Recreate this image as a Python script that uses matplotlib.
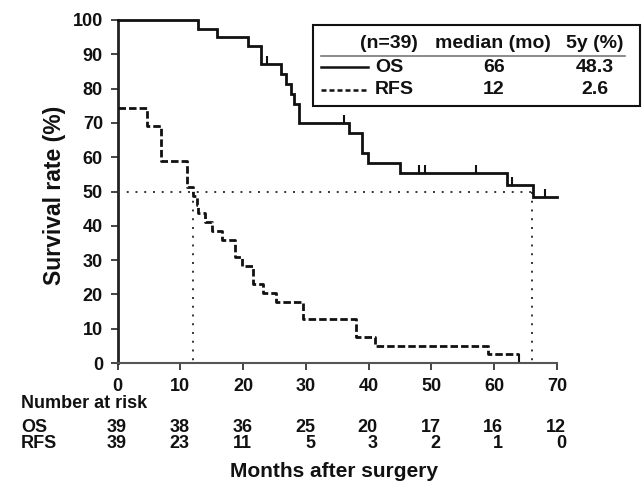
import numpy as np
import matplotlib
matplotlib.use('Agg')
import matplotlib.pyplot as plt
from matplotlib.patches import Rectangle
from matplotlib.lines import Line2D
from matplotlib.transforms import blended_transform_factory

# ---------------- data ----------------
os_times = [0, 12.9, 15.9, 20.8, 22.8, 26.0, 26.8, 27.7, 28.1, 28.9, 36.8, 39.0, 39.9, 45.0, 62.0, 66.1, 70.0]
os_surv = [100, 97.4, 94.9, 92.3, 87.2, 84.3, 81.4, 78.5, 75.6, 70.0, 67.0, 61.1, 58.2, 55.3, 52.0, 48.3, 48.3]
os_censor_times = [23.8, 36.0, 48.1, 49.0, 57.1, 62.9, 68.1]

rfs_times = [0, 4.7, 6.9, 11.0, 12.1, 12.7, 12.9, 14.0, 15.0, 16.6, 18.7, 19.8, 21.6, 23.2, 25.3, 29.6, 38.0, 41.0, 59.0, 64.0]
rfs_surv = [74.4, 69.2, 59.0, 51.3, 48.7, 46.2, 43.6, 41.0, 38.5, 35.9, 30.8, 28.2, 23.1, 20.5, 17.9, 12.8, 7.7, 5.1, 2.6, 2.6]
rfs_censor_times = [64.0]

median_os = 66
median_rfs = 12

series_names = ['OS', 'RFS']
legend_header = ['(n=39)', 'median (mo)', '5y (%)']
median_labels = ['66', '12']
five_year_labels = ['48.3', '2.6']

risk_times = [0, 10, 20, 30, 40, 50, 60, 70]
os_at_risk = [39, 38, 36, 25, 20, 17, 16, 12]
rfs_at_risk = [39, 23, 11, 5, 3, 2, 1, 0]

x_ticks = [0, 10, 20, 30, 40, 50, 60, 70]
y_ticks = [0, 10, 20, 30, 40, 50, 60, 70, 80, 90, 100]

# ---------------- style ----------------
plt.rcParams['font.family'] = ['Liberation Sans', 'DejaVu Sans']
plt.rcParams['font.weight'] = 'bold'

W, H = 644, 482
fig = plt.figure(figsize=(W / 100, H / 100), dpi=100)


def fx(x):
    return x / W


def fy(y):
    return 1 - y / H


ax = fig.add_axes([fx(117.5), fy(363), fx(557) - fx(117.5), fy(20) - fy(363)])
ax.set_xlim(0, 70)
ax.set_ylim(0, 100)


def step_value(times, surv, t):
    idx = np.searchsorted(times, t, side='right') - 1
    return np.asarray(surv)[idx]


ink = '#111111'
ax.plot(os_times, os_surv, drawstyle='steps-post', color=ink, lw=2.0, clip_on=False,
        solid_joinstyle='miter', zorder=4)
ax.plot(rfs_times, rfs_surv, drawstyle='steps-post', color=ink, lw=2.0, dashes=(2.7, 1.1),
        clip_on=False, zorder=4)
ax.plot(os_censor_times, step_value(os_times, os_surv, os_censor_times), ls='none',
        marker=2, ms=6, mew=1.5, color=ink, clip_on=False, zorder=4)
ax.plot(rfs_censor_times, step_value(rfs_times, rfs_surv, rfs_censor_times), ls='none',
        marker=3, ms=6, mew=1.5, color=ink, clip_on=False, zorder=4)

dot = (0, (1, 3.5))
ax.plot([0, median_os], [50, 50], color='#333333', lw=1.4, ls=dot, zorder=3)
ax.plot([median_rfs, median_rfs], [50, 0], color='#333333', lw=1.4, ls=dot, zorder=3)
ax.plot([median_os, median_os], [50, 0], color='#333333', lw=1.4, ls=dot, zorder=3)

for s in ['top', 'right']:
    ax.spines[s].set_visible(False)
ax.spines['left'].set_linewidth(2.0)
ax.spines['left'].set_color('#222222')
ax.spines['bottom'].set_linewidth(1.5)
ax.spines['bottom'].set_color('#555555')

ax.set_xticks(x_ticks)
ax.set_yticks(y_ticks)
ax.tick_params(axis='both', direction='out', length=5, width=1.4, color='#444444',
               labelsize=13, labelcolor=ink)
ax.tick_params(axis='y', pad=5.5)
ax.tick_params(axis='x', pad=6.0)

fig.text(fx(55), fy(195), 'Survival rate (%)', rotation=90, ha='center', va='center',
         fontsize=16.5, color=ink)
fig.text(fx(333.8), fy(477), 'Months after surgery', ha='center', va='baseline',
         fontsize=15, color=ink)

# ---------------- number at risk ----------------
fig.text(fx(21), fy(404), 'Number at risk', ha='left', va='center', fontsize=13, color=ink)
trans = blended_transform_factory(ax.transData, fig.transFigure)
for name, vals, yy in [(series_names[0], os_at_risk, 427), (series_names[1], rfs_at_risk, 444)]:
    fig.text(fx(21), fy(yy), name, ha='left', va='center', fontsize=13, color=ink)
    for t, v in zip(risk_times, vals):
        ax.text(t + 1.45, fy(yy), str(v), transform=trans, ha='right', va='center',
                fontsize=13, color=ink, clip_on=False)

# ---------------- legend table ----------------
fig.patches.append(Rectangle((fx(312.7), fy(106)), fx(640) - fx(312.7), fy(25) - fy(106),
                             transform=fig.transFigure, fill=True, fc='white', ec=ink, lw=1.5,
                             zorder=5))
fs = 14
fig.text(fx(418), fy(43), legend_header[0], ha='right', va='center', fontsize=fs, color=ink, zorder=6)
fig.text(fx(492.5), fy(43), legend_header[1], ha='center', va='center', fontsize=fs, color=ink, zorder=6)
fig.text(fx(595), fy(43), legend_header[2], ha='center', va='center', fontsize=fs, color=ink, zorder=6)
fig.lines.append(Line2D([fx(320.7), fx(625)], [fy(56), fy(56)], transform=fig.transFigure,
                        color='#777777', lw=1.2, zorder=6))
row_y = [67, 90]
row_dash = [None, (2.0, 1.2)]
for name, med, fy5, yy, dsh in zip(series_names, median_labels, five_year_labels, row_y, row_dash):
    ln = Line2D([fx(320.7), fx(368.3)], [fy(yy), fy(yy)], transform=fig.transFigure,
                color=ink, lw=1.8, zorder=6)
    if dsh is not None:
        ln.set_dashes(dsh)
    fig.lines.append(ln)
    fig.text(fx(375), fy(yy), name, ha='left', va='center', fontsize=fs, color=ink, zorder=6)
    fig.text(fx(494), fy(yy), med, ha='center', va='center', fontsize=fs, color=ink, zorder=6)
    fig.text(fx(595), fy(yy), fy5, ha='center', va='center', fontsize=fs, color=ink, zorder=6)

fig.savefig('out.png', dpi=100)
